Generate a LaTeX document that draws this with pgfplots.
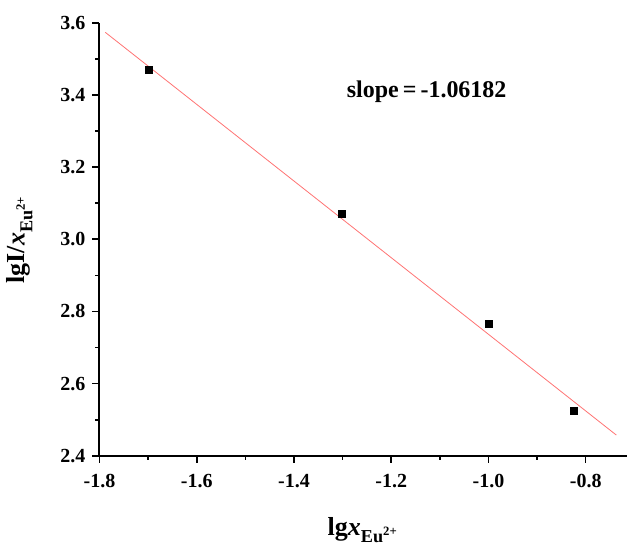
\documentclass[border=0pt]{standalone}
\usepackage{fontspec}
\setmainfont{Liberation Serif}
\usepackage{pgfplots}
\pgfplotsset{compat=1.18}
\definecolor{fitred}{rgb}{1,0.45,0.45}
\begin{document}
\begin{tikzpicture}
\begin{axis}[
    scale only axis,
    width=264pt, height=216.7pt,
    xmin=-1.8, xmax=-0.715,
    ymin=2.4, ymax=3.6,
    axis lines=left,
    axis line style={-, line width=1pt},
    tick align=outside,
    major tick length=3.5pt,
    minor tick length=2pt,
    every tick/.style={black, line width=0.8pt},
    xtick={-1.8,-1.6,-1.4,-1.2,-1.0,-0.8},
    xticklabels={-1.8,-1.6,-1.4,-1.2,-1.0,-0.8},
    ytick={2.4,2.6,2.8,3.0,3.2,3.4,3.6},
    yticklabels={2.4,2.6,2.8,3.0,3.2,3.4,3.6},
    minor x tick num=1,
    minor y tick num=1,
    tick label style={font=\fontsize{10}{12}\selectfont\bfseries},
    xticklabel style={yshift=-2pt},
    xlabel={\textbf{lg\textit{x}\textsubscript{Eu\textsuperscript{2+}}}},
    ylabel={\textbf{lgI/\textit{x}\textsubscript{Eu\textsuperscript{2+}}}},
    xlabel style={font=\fontsize{13}{15}\selectfont, yshift=-8pt},
    ylabel style={font=\fontsize{13}{15}\selectfont, yshift=7pt},
    clip=false,
]
% fitted line
\addplot[fitred, line width=0.4pt] coordinates {
    (-1.788, 3.5735)
    (-0.737, 2.4575)
};
% measured points
\addplot[only marks, mark=square*, mark size=1.75pt, black] coordinates {
    (-1.699, 3.469)
    (-1.301, 3.071)
    (-1.000, 2.765)
    (-0.824, 2.525)
};
\node[font=\fontsize{12}{14}\selectfont\bfseries] at (axis cs:-1.127,3.408) {slope\,=\,-1.06182};
\end{axis}
% white space above the axis
\path (current axis.north west) -- ++(0,11.4pt);
\end{tikzpicture}
\end{document}
